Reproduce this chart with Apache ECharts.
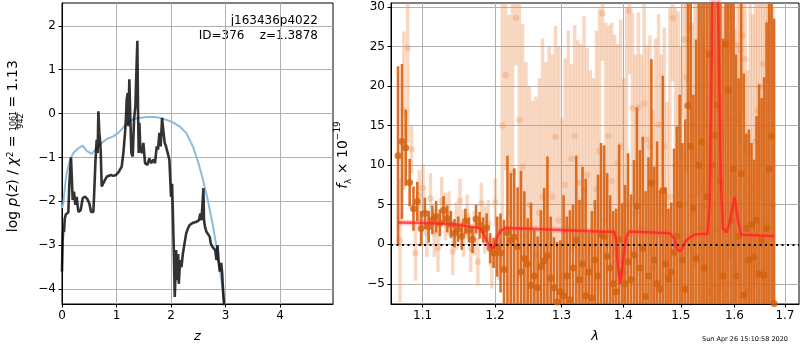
<!DOCTYPE html>
<html><head><meta charset="utf-8">
<script src="https://cdn.jsdelivr.net/npm/echarts@6.0.0/dist/echarts.min.js"></script>
<style>html,body{margin:0;padding:0;background:#fff}#c{width:800px;height:350px}</style>
</head><body><div id="c"></div>
<script>
// ---- left panel: log p(z) ----
const pzZ = [0,0.012,0.024,0.037,0.05,0.07,0.1,0.116,0.135,0.15,0.165,0.177,0.196,0.22,0.245,0.269,0.3,0.343,0.379,0.422,0.465,0.502,0.532,0.575,0.593,0.612,0.636,0.654,0.667,0.685,0.697,0.709,0.728,0.758,0.789,0.82,0.85,0.893,0.942,0.991,1.034,1.064,1.095,1.125,1.156,1.174,1.187,1.205,1.217,1.235,1.254,1.272,1.297,1.321,1.346,1.364,1.382,1.394,1.407,1.419,1.437,1.468,1.492,1.523,1.566,1.602,1.633,1.676,1.706,1.737,1.761,1.786,1.81,1.835,1.859,1.884,1.908,1.938,1.969,2.0,2.019,2.031,2.049,2.068,2.08,2.093,2.111,2.13,2.142,2.167,2.191,2.216,2.247,2.278,2.309,2.34,2.401,2.463,2.512,2.537,2.556,2.574,2.593,2.605,2.623,2.648,2.679,2.71,2.728,2.759,2.784,2.809,2.833,2.852,2.87,2.895,2.92,2.938,2.957,2.975];
const pzLog = [-3.6,-2.9,-2.6,-2.7,-2.4,-2.3,-2.28,-2.25,-1.6,-1.3,-1.0,-1.36,-1.97,-1.78,-2.08,-1.9,-2.24,-2.2,-1.93,-1.89,-1.95,-2.05,-2.24,-2.24,-1.74,-1.13,-0.6,-0.9,0.05,-0.44,-0.6,-0.82,-1.66,-1.7,-1.51,-1.44,-1.47,-1.4,-1.42,-1.4,-1.34,-1.32,-1.21,-0.9,-0.44,-0.06,0.32,0.47,-0.29,0.78,-0.14,-0.9,-0.98,-0.14,0.17,0.93,1.66,0.09,-0.9,-0.21,-0.82,-0.9,-0.67,-1.13,-1.17,-1.02,-1.13,-1.05,-1.13,-0.75,-0.82,-0.44,-0.75,-0.1,-0.4,-0.67,-0.75,-0.75,-1.05,-1.9,-1.6,-2.16,-3.04,-4.18,-3.7,-3.11,-3.8,-3.2,-3.88,-3.34,-3.5,-3.2,-2.96,-2.73,-2.62,-2.54,-2.49,-2.47,-2.43,-2.28,-2.43,-2.12,-1.7,-2.43,-2.58,-2.69,-2.73,-2.81,-2.96,-3.04,-3.04,-3.11,-3.34,-3.0,-3.34,-3.6,-3.4,-3.65,-4.1,-4.4];
const priorZ = [0,0.024,0.055,0.086,0.147,0.208,0.3,0.379,0.453,0.544,0.636,0.728,0.82,0.942,1.034,1.156,1.278,1.4,1.554,1.706,1.815,1.86,2.0,2.154,2.278,2.4,2.494,2.586,2.679,2.772,2.833,2.895,2.957,2.98];
const priorLog = [-2.15,-2.05,-1.66,-1.36,-1.05,-0.9,-0.79,-0.73,-0.85,-0.92,-0.79,-0.67,-0.58,-0.52,-0.44,-0.27,-0.14,-0.1,-0.08,-0.08,-0.1,-0.12,-0.18,-0.29,-0.44,-0.75,-1.09,-1.51,-2.0,-2.58,-3.04,-3.57,-4.1,-4.4];
const zTicks = [0,1,2,3,4];
const logpTicks = [-4,-3,-2,-1,0,1,2];

// ---- right panel: spectrum ----
const darkLam = [1.068,1.073,1.078,1.083,1.088,1.093,1.098,1.103,1.108,1.113,
1.118,1.123,1.128,1.133,1.138,1.143,1.148,1.153,1.158,1.163,
1.168,1.173,1.178,1.183,1.188,1.193,1.198,1.203,1.208,1.213,
1.218,1.223,1.228,1.233,1.238,1.243,1.248,1.253,1.258,1.263,
1.268,1.273,1.278,1.283,1.288,1.293,1.298,1.303,1.308,1.313,
1.318,1.323,1.328,1.333,1.338,1.343,1.348,1.353,1.358,1.363,
1.368,1.373,1.378,1.383,1.388,1.393,1.398,1.403,1.408,1.413,
1.418,1.423,1.428,1.433,1.438,1.443,1.448,1.453,1.458,1.463,
1.468,1.473,1.478,1.483,1.488,1.493,1.498,1.503,1.508,1.513,
1.518,1.523,1.528,1.533,1.538,1.543,1.548,1.553,1.558,1.563,
1.568,1.573,1.578,1.583,1.588,1.593,1.598,1.603,1.608,1.613,
1.618,1.623,1.628,1.633,1.638,1.643,1.648,1.653,1.658,1.663,
1.668,1.673,1.678];
const darkFlux = [11.2,13.0,12.2,7.8,4.5,5.4,2.0,3.9,2.2,3.1,
3.5,2.7,4.3,3.2,2.5,1.4,1.9,1.0,2.9,1.8,
0.6,3.2,2.4,1.8,2.1,-0.5,-1.1,-0.3,-1.1,-3.2,
1.5,0.5,0.9,-0.3,-3.5,-1.8,-2.5,-5.2,-4.0,-5.5,
-2.8,-2.1,-1.4,-4.3,-5.5,-7.3,-6.0,-6.5,-4.0,-7.0,
-3.0,0.5,-4.5,-2.5,-6.5,-3.5,-6.8,-2.0,-4.0,1.2,
1.0,-1.5,-3.0,-5.0,-6.0,0.6,-3.5,-5.0,-2.2,-4.5,
-1.35,4.8,-3.0,-0.5,-6.6,-4.0,7.7,-2.0,-5.0,-5.7,
6.8,-2.5,-4.4,-3.5,-1.0,1.0,5.0,-2.0,-5.7,17.5,
12.4,4.6,-1.8,10.0,13.0,-3.0,6.0,24.0,10.0,13.8,
17.6,8.0,-4.0,25.3,19.5,3.0,9.5,-4.0,1.0,8.9,
-6.4,2.0,-2.0,2.5,-1.6,3.0,-3.8,0.5,-3.9,2.0,
9.5,13.7,-7.5];
const darkErr = [11.3,9.8,4.8,3.0,2.8,2.5,2.2,2.0,2.0,1.8,
2.0,1.7,1.8,1.7,1.7,1.8,1.6,1.7,1.6,1.6,
1.7,1.8,1.7,1.6,1.8,1.9,1.9,3.8,5.0,6.3,
9.7,8.5,8.7,7.5,12.8,8.5,5.8,10.4,5.8,6.5,
7.1,9.2,12.5,7.8,6.4,7.6,6.5,12.7,7.5,11.3,
8.0,10.7,10.1,12.3,14.8,5.0,11.0,7.6,12.8,11.6,
11.5,10.5,9.2,9.2,10.5,12.0,8.7,12.5,13.7,10.8,
12.0,12.5,14.9,14.1,13.3,15.0,15.7,11.8,18.0,12.5,
14.5,9.7,8.9,8.8,13.1,13.9,13.9,14.8,21.5,26.0,
21.0,14.3,27.7,21.0,21.0,35.0,28.0,32.0,25.0,22.0,
26.0,25.0,30.0,33.0,28.0,28.0,22.0,28.0,20.0,22.0,
28.0,12.0,16.5,10.3,12.3,13.2,24.0,18.0,25.0,26.0,
25.0,22.0,36.0];

const lightLam = [1.0705,1.0755,1.0805,1.0855,1.0905,1.0955,1.1005,1.1055,1.1105,1.1155,
1.1205,1.1255,1.1305,1.1355,1.1405,1.1455,1.1505,1.1555,1.1605,1.1655,
1.1705,1.1755,1.1805,1.1855,1.1905,1.1955,1.2005,1.2055,1.2105,1.2155,
1.2205,1.2255,1.2305,1.2355,1.2405,1.2455,1.2505,1.2555,1.2605,1.2655,
1.2705,1.2755,1.2805,1.2855,1.2905,1.2955,1.3005,1.3055,1.3105,1.3155,
1.3205,1.3255,1.3305,1.3355,1.3405,1.3455,1.3505,1.3555,1.3605,1.3655,
1.3705,1.3755,1.3805,1.3855,1.3905,1.3955,1.4005,1.4055,1.4105,1.4155,
1.4205,1.4255,1.4305,1.4355,1.4405,1.4455,1.4505,1.4555,1.4605,1.4655,
1.4705,1.4755,1.4805,1.4855,1.4905,1.4955,1.5005,1.5055,1.5105,1.5155,
1.5205,1.5255,1.5305,1.5355,1.5405,1.5455,1.5505,1.5555,1.5605,1.5655,
1.5705,1.5755,1.5805,1.5855,1.5905,1.5955,1.6005,1.6055,1.6105,1.6155,
1.6205,1.6255,1.6305,1.6355,1.6405,1.6455,1.6505,1.6555,1.6605,1.6655,
1.6705,1.6755];
const lightFlux = [0.5,16.9,24.8,12.0,-1.1,6.2,7.1,1.4,5.8,1.4,
-0.5,5.5,3.5,3.9,-0.9,2.3,5.5,1.4,3.5,-0.5,
1.4,-2.2,5.2,1.8,2.6,-2.4,5.3,-0.5,15.0,21.4,
4.0,9.0,28.6,15.7,9.8,1.0,5.0,-3.9,-1.35,4.0,
6.0,-2.0,1.0,6.0,13.6,3.0,-4.0,7.5,2.0,10.8,
13.7,7.8,5.3,6.9,8.8,0.0,-3.0,7.0,11.8,29.2,
3.0,13.7,8.0,1.5,10.3,12.4,-2.0,5.0,29.5,17.2,
4.0,17.3,2.0,17.8,13.2,12.4,-3.0,8.0,15.1,4.0,
12.4,-4.0,6.0,28.6,10.0,14.4,0.0,25.9,21.1,27.3,
6.0,15.0,20.0,2.0,7.1,4.8,-6.1,9.0,1.8,-5.4,
6.5,14.0,2.0,25.5,16.0,28.7,-2.8,25.2,24.6,26.4,
23.4,-6.0,11.7,7.1,13.0,16.9,19.9,22.8,3.0,27.9,
26.5,5.0];
const lightErr = [7.8,10.0,12.0,3.0,3.5,3.2,3.0,3.0,3.2,3.0,
3.0,3.0,3.0,2.8,3.0,3.0,2.8,3.0,2.8,3.0,
2.8,3.0,2.6,3.0,3.0,3.2,3.0,4.0,18.0,12.0,
25,22,6,20,18,22,15,22,20,17,
20,25,24,18,14,22,20,16,25,12,
14,18,20,22,16,22,24,20,18,6,
25,14,20,25,15,16,23,25,8,12,
20,12,22,13,12,14,20,18,14,20,
15,22,24,8,20,15,25,10,12,10,
22,18,14,28,20,20,20,22,24,30,
28,20,28,10,18,8,30,10,12,10,
12,28,20,22,18,16,14,12,28,8,
10,25];

const modelLam = [1.068,1.10,1.13,1.15,1.165,1.175,1.18,1.185,1.19,1.195,1.199,1.203,1.208,1.215,1.25,1.30,1.35,1.385,1.388,1.391,1.395,1.398,1.401,1.405,1.41,1.45,1.48,1.488,1.493,1.498,1.502,1.508,1.515,1.525,1.535,1.549,1.553,1.556,1.559,1.562,1.566,1.570,1.574,1.578,1.585,1.592,1.600,1.607,1.613,1.65,1.678];
const modelFlux = [2.75,2.7,2.6,2.45,2.2,2.1,1.9,1.0,0.1,-0.5,-0.3,0.9,1.7,2.05,1.95,1.8,1.65,1.55,0.5,-3.0,-5.0,-3.0,-1.0,1.0,1.6,1.5,1.4,0.8,-0.5,-0.9,-0.6,0.3,0.8,1.2,1.3,1.3,5,20,35,40,40,25,8,2.0,1.5,3.0,6.0,3.0,1.2,1.1,1.05];
const lamTicks = [1.1,1.2,1.3,1.4,1.5,1.6,1.7];
const fluxTicks = [-5,0,5,10,15,20,25,30];

const FONT = 'DejaVu Sans';
const minus = v => String(v).replace('-', '\u2212');
const zip2 = (a, b) => a.map((v, i) => [v, b[i]]);
const zip3 = (a, b, c) => a.map((v, i) => [v, b[i], c[i]]);

function errRender(color, width) {
  return function (params, api) {
    const x = api.value(0), y = api.value(1), e = api.value(2);
    const p1 = api.coord([x, y - e]);
    const p2 = api.coord([x, y + e]);
    return { type: 'line', shape: { x1: p1[0], y1: p1[1], x2: p2[0], y2: p2[1] },
      style: { stroke: color, lineWidth: width } };
  };
}

function axisBase(ticks, fmt) {
  return {
    axisLine: { show: true, onZero: false, lineStyle: { color: '#000', width: 1 } },
    axisTick: { show: true, inside: false, length: 3.5, lineStyle: { color: '#000', width: 1 }, customValues: ticks },
    axisLabel: { customValues: ticks, formatter: fmt, color: '#000', fontFamily: FONT, fontSize: 12, margin: 6 },
    splitLine: { show: true, lineStyle: { color: '#b0b0b0', width: 1 } },
    nameTextStyle: { color: '#000', fontFamily: FONT, fontSize: 13, fontStyle: 'italic' }
  };
}

const chart = echarts.init(document.getElementById('c'), null, { renderer: 'canvas' });
const option = {
  animation: false,
  backgroundColor: '#fff',
  grid: [
    { left: 62, top: 3, width: 271, height: 301, show: true, borderColor: '#000', borderWidth: 1, backgroundColor: 'transparent', outerBoundsMode: 'none' },
    { left: 391, top: 3, width: 408, height: 301, show: true, borderColor: '#000', borderWidth: 1, backgroundColor: 'transparent', outerBoundsMode: 'none' }
  ],
  xAxis: [
    Object.assign(axisBase(zTicks, v => minus(v)), { gridIndex: 0, type: 'value', min: 0, max: 4.97, name: 'z', nameLocation: 'middle', nameGap: 26 }),
    Object.assign(axisBase(lamTicks, v => Number(v).toFixed(1)), { gridIndex: 1, type: 'log', logBase: 10, min: 1.059, max: 1.729, name: 'λ', nameLocation: 'middle', nameGap: 26 })
  ],
  yAxis: [
    Object.assign(axisBase(logpTicks, v => minus(v)), { gridIndex: 0, type: 'value', min: -4.34, max: 2.52 }),
    Object.assign(axisBase(fluxTicks, v => minus(v)), { gridIndex: 1, type: 'value', min: -7.55, max: 30.5 })
  ],
  series: [
    { type: 'line', xAxisIndex: 0, yAxisIndex: 0, data: zip2(priorZ, priorLog), showSymbol: false, clip: true,
      lineStyle: { color: '#8fbbd9', width: 2 }, z: 2 },
    { type: 'line', xAxisIndex: 0, yAxisIndex: 0, data: zip2(pzZ, pzLog), showSymbol: false, clip: true,
      lineStyle: { color: 'rgba(0,0,0,0.8)', width: 2.6 }, z: 3 },
    { type: 'custom', xAxisIndex: 1, yAxisIndex: 1, data: zip3(lightLam, lightFlux, lightErr), clip: true,
      renderItem: errRender('rgba(234,140,75,0.34)', 3.5), z: 2 },
    { type: 'scatter', xAxisIndex: 1, yAxisIndex: 1, data: zip2(lightLam, lightFlux), symbolSize: 6.5, clip: true,
      itemStyle: { color: 'rgba(234,140,75,0.38)' }, z: 2 },
    { type: 'custom', xAxisIndex: 1, yAxisIndex: 1, data: zip3(darkLam, darkFlux, darkErr), clip: true,
      renderItem: errRender('rgba(216,100,22,0.92)', 2.6), z: 3 },
    { type: 'scatter', xAxisIndex: 1, yAxisIndex: 1, data: zip2(darkLam, darkFlux), symbolSize: 7, clip: true,
      itemStyle: { color: '#d2600e' }, z: 3 },
    { type: 'line', xAxisIndex: 1, yAxisIndex: 1, data: zip2(modelLam, modelFlux), showSymbol: false, clip: true,
      lineStyle: { color: 'rgba(255,90,90,0.3)', width: 6 }, z: 4 },
    { type: 'line', xAxisIndex: 1, yAxisIndex: 1, data: zip2(modelLam, modelFlux), showSymbol: false, clip: true,
      lineStyle: { color: 'rgba(255,30,20,0.7)', width: 2.5 }, z: 5,
      markLine: { silent: true, symbol: 'none', label: { show: false },
        lineStyle: { color: '#000', width: 2, type: [2, 3.5] }, data: [{ yAxis: 0 }] } }
  ],
  graphic: [
    { type: 'text', x: 318, y: 21, style: { text: 'j163436p4022', fill: '#000', font: '12px "DejaVu Sans"', align: 'right', verticalAlign: 'middle' } },
    { type: 'text', x: 318, y: 36, style: { text: 'ID=376    z=1.3878', fill: '#000', font: '12px "DejaVu Sans"', align: 'right', verticalAlign: 'middle' } },
    { type: 'group', x: 13, y: 156, rotation: Math.PI / 2, children: [
      { type: 'text', x: 25, y: 0, style: { text: '{a|log }{i|p}{a|(}{i|z}{a|) / }{i|χ}{s|2}{a| = }',
        rich: { a: { font: '14px "DejaVu Sans"', fill: '#000' }, i: { font: 'italic 14px "DejaVu Sans"', fill: '#000' },
                s: { font: '9px "DejaVu Sans"', fill: '#000', verticalAlign: 'top' } },
        align: 'right', verticalAlign: 'middle' } },
      { type: 'text', x: 35, y: 0.5, style: { text: '1061', fill: '#000', font: '8px "DejaVu Sans"', align: 'center', verticalAlign: 'middle' } },
      { type: 'line', shape: { x1: 26.5, y1: 4.2, x2: 43.5, y2: 4.2 }, style: { stroke: '#000', lineWidth: 0.8 } },
      { type: 'text', x: 35, y: 8.2, style: { text: '942', fill: '#000', font: '8px "DejaVu Sans"', align: 'center', verticalAlign: 'middle' } },
      { type: 'text', x: 44, y: 0, style: { text: ' = 1.13', fill: '#000', font: '14px "DejaVu Sans"', align: 'left', verticalAlign: 'middle' } }
    ] },
    { type: 'text', x: 343, y: 155, rotation: Math.PI / 2, style: { text: '{f|f}{s|λ}{n| × 10}{p|−19}',
      rich: { f: { font: 'italic 14px "DejaVu Sans"', fill: '#000', lineHeight: 20 },
              s: { font: '9px "DejaVu Sans"', fill: '#000', verticalAlign: 'bottom', lineHeight: 20 },
              n: { font: '14px "DejaVu Sans"', fill: '#000', lineHeight: 20 },
              p: { font: '9px "DejaVu Sans"', fill: '#000', verticalAlign: 'top', lineHeight: 20 } },
      align: 'center', verticalAlign: 'middle' } },
    { type: 'text', x: 788, y: 339, style: { text: 'Sun Apr 26 15:10:58 2020', fill: '#000', font: '6.5px "DejaVu Sans"', align: 'right', verticalAlign: 'middle' } }
  ]
};
chart.setOption(option);
</script>
</body></html>
